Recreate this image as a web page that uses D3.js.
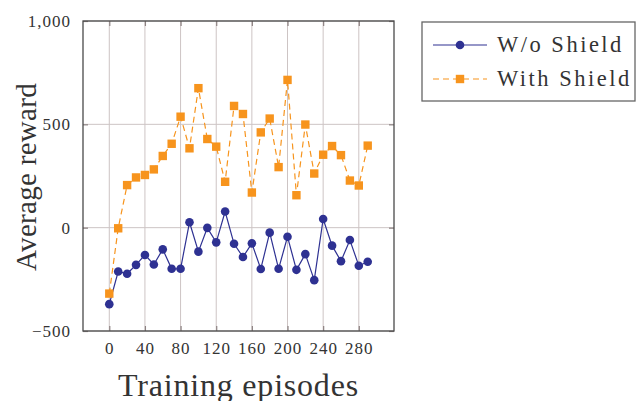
<!DOCTYPE html>
<html>
<head>
<meta charset="utf-8">
<script src="https://cdn.jsdelivr.net/npm/d3@7"></script>
<style>
  body { margin: 0; background: #fff; }
</style>
</head>
<body>
<svg id="chart" width="636" height="401"></svg>
<script>
// data
var episodes = [0,10,20,30,40,50,60,70,80,90,100,110,120,130,140,150,160,170,180,190,200,210,220,230,240,250,260,270,280,290];
var withoutShield = [-370,-212,-223,-180,-132,-178,-105,-199,-199,26,-116,-1,-71,78,-78,-142,-76,-200,-24,-199,-44,-204,-128,-254,42,-87,-162,-60,-184,-165];
var withShield = [-319,-3,206,243,255,282,347,406,537,384,675,429,392,222,589,550,170,461,528,293,715,157,499,262,353,395,351,228,204,397];
var xTicks = [0,40,80,120,160,200,240,280];
var yTicks = [-500,0,500,1000];
var seriesNames = ["W/o Shield", "With Shield"];

var serif = '"Liberation Serif", "DejaVu Serif", serif';
var blue = "#2e3192", orange = "#f7941d";
var gridColor = "#cdc4c4", frameColor = "#4a4a4a", textColor = "#333";

var margin = {top: 21, right: 242, bottom: 70, left: 83},
	width = 636 - margin.left - margin.right,
	height = 401 - margin.top - margin.bottom;

var svg = d3.select("#chart");
var chart = svg.append("g")
	.attr("transform", "translate(" + margin.left + "," + margin.top + ")");

var x = d3.scaleLinear().domain([-29.5, 319.5]).range([0, width]);
var y = d3.scaleLinear().domain([-500, 1000]).range([height, 0]);

// grid lines
chart.append("g").selectAll("line")
	.data(xTicks)
  .enter().append("line")
	.attr("x1", function(d) { return x(d); })
	.attr("x2", function(d) { return x(d); })
	.attr("y1", 0).attr("y2", height)
	.attr("stroke", gridColor).attr("stroke-width", 1);
chart.append("g").selectAll("line")
	.data(yTicks)
  .enter().append("line")
	.attr("x1", 0).attr("x2", width)
	.attr("y1", function(d) { return y(d); })
	.attr("y2", function(d) { return y(d); })
	.attr("stroke", gridColor).attr("stroke-width", 1);

// axes (ticks inside the frame on all four sides)
var xAxis = chart.append("g")
	.attr("transform", "translate(0," + height + ")")
	.call(d3.axisBottom(x).tickValues(xTicks).tickSize(-5).tickPadding(11)
		.tickFormat(d3.format("d")));
var xAxisTop = chart.append("g")
	.call(d3.axisTop(x).tickValues(xTicks).tickSize(-5).tickFormat(""));
var yAxis = chart.append("g")
	.call(d3.axisLeft(y).tickValues(yTicks).tickSize(-5).tickPadding(12)
		.tickFormat(function(d) { return d3.format(",")(d).replace("-", "\u2212"); }));
var yAxisRight = chart.append("g")
	.attr("transform", "translate(" + width + ",0)")
	.call(d3.axisRight(y).tickValues(yTicks).tickSize(-5).tickFormat(""));

[xAxis, xAxisTop, yAxis, yAxisRight].forEach(function(a) {
	a.attr("font-family", null).attr("font-size", null);
	a.select(".domain").remove();
	a.selectAll(".tick line").attr("stroke", "#8c8282").attr("stroke-width", 1.2);
	a.selectAll(".tick text")
		.style("font-family", serif)
		.style("font-size", "17px")
		.style("letter-spacing", "1px")
		.attr("fill", textColor);
});

// frame
chart.append("rect")
	.attr("width", width).attr("height", height)
	.attr("fill", "none").attr("stroke", frameColor).attr("stroke-width", 1.3);

var line = d3.line()
	.x(function(d) { return x(d[0]); })
	.y(function(d) { return y(d[1]); });

var blueData = d3.zip(episodes, withoutShield);
var orangeData = d3.zip(episodes, withShield);

// W/o Shield
chart.append("path")
	.datum(blueData)
	.attr("d", line)
	.attr("fill", "none").attr("stroke", blue).attr("stroke-width", 1.2);
chart.append("g").selectAll("circle")
	.data(blueData)
  .enter().append("circle")
	.attr("cx", function(d) { return x(d[0]); })
	.attr("cy", function(d) { return y(d[1]); })
	.attr("r", 4.3)
	.attr("fill", blue);

// With Shield
chart.append("path")
	.datum(orangeData)
	.attr("d", line)
	.attr("fill", "none").attr("stroke", orange).attr("stroke-width", 1.2)
	.attr("stroke-dasharray", "6,4");
chart.append("g").selectAll("rect")
	.data(orangeData)
  .enter().append("rect")
	.attr("x", function(d) { return x(d[0]) - 4.2; })
	.attr("y", function(d) { return y(d[1]) - 4.2; })
	.attr("width", 8.4).attr("height", 8.4)
	.attr("fill", orange);

// axis labels
svg.append("text")
	.attr("x", margin.left + width / 2)
	.attr("y", 396)
	.attr("text-anchor", "middle")
	.style("font-family", serif)
	.style("font-size", "32px")
	.style("letter-spacing", "0.8px")
	.attr("fill", textColor)
	.text("Training episodes");
svg.append("text")
	.attr("transform", "translate(36,177) rotate(-90)")
	.attr("text-anchor", "middle")
	.style("font-family", serif)
	.style("font-size", "29px")
	.style("letter-spacing", "0.3px")
	.attr("fill", textColor)
	.text("Average reward");

// legend
var legend = svg.append("g").attr("transform", "translate(422,22)");
legend.append("rect")
	.attr("width", 213).attr("height", 79)
	.attr("fill", "#fff").attr("stroke", "#666").attr("stroke-width", 1.3);
var items = legend.selectAll(".legend")
	.data(seriesNames)
  .enter().append("g")
	.attr("class", "legend")
	.attr("transform", function(d, i) { return "translate(0," + (23 + i * 34) + ")"; });
items.append("line")
	.attr("x1", 11).attr("x2", 65)
	.attr("stroke", function(d, i) { return i ? orange : blue; })
	.attr("stroke-width", 1.2)
	.attr("stroke-dasharray", function(d, i) { return i ? "6,4" : null; });
items.filter(function(d, i) { return i === 0; }).append("circle")
	.attr("cx", 38).attr("r", 4.3).attr("fill", blue);
items.filter(function(d, i) { return i === 1; }).append("rect")
	.attr("x", 33.8).attr("y", -4.2).attr("width", 8.4).attr("height", 8.4).attr("fill", orange);
items.append("text")
	.attr("x", 75).attr("y", 7)
	.style("font-family", serif)
	.style("font-size", "22.5px")
	.style("letter-spacing", "2.5px")
	.attr("fill", textColor)
	.text(function(d) { return d; });
</script>
</body>
</html>
